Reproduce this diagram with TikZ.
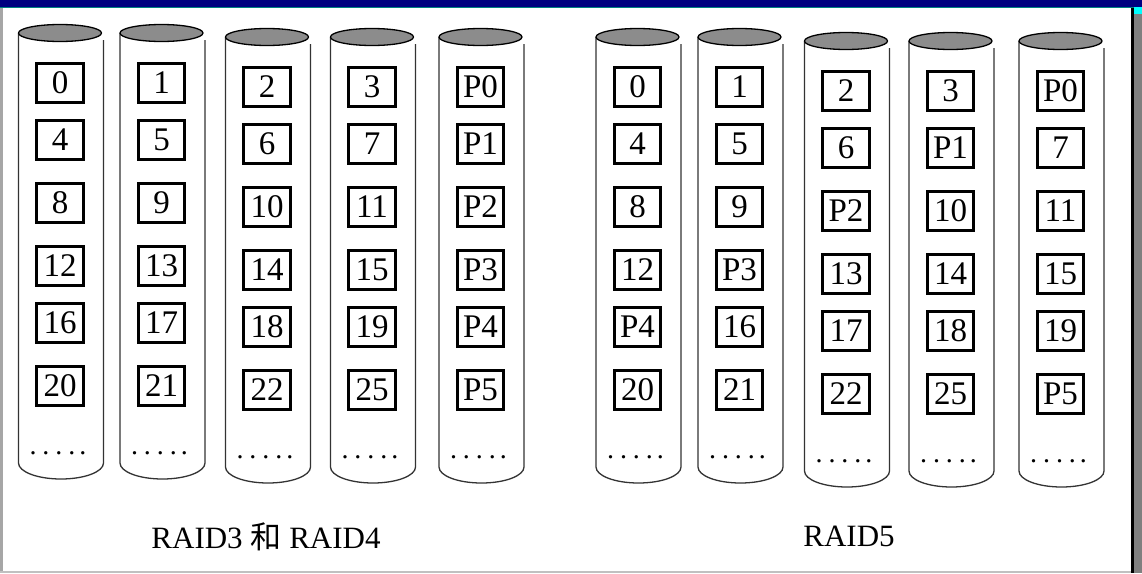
\documentclass[tikz,border=0pt]{standalone}
\usepackage{fontspec}
\setmainfont{Liberation Serif}
\newfontfamily\cjk{Noto Sans CJK SC}
\usetikzlibrary{positioning}
\definecolor{diskTop}{RGB}{140,140,140}
\definecolor{barBlue}{RGB}{0,0,128}
\definecolor{barTeal}{RGB}{0,128,128}
\definecolor{edgeGray}{RGB}{128,128,128}
\definecolor{edgeCyan}{RGB}{0,255,255}

\begin{document}
\begin{tikzpicture}[x=1pt, y=-1pt,
  blk/.style={draw, line width=2.6pt, minimum width=46.5pt, minimum height=38.5pt,
    inner sep=0pt, font=\fontsize{33}{36}\selectfont},
  side/.style={draw=black!80, line width=1.3pt},
  dots/.style={anchor=base, font=\fontsize{28}{32}\selectfont},
  raidlabel/.style={anchor=base, font=\fontsize{31}{36}\selectfont},
]
  \useasboundingbox (0,0) rectangle (1142,573);
  \fill[white] (0,0) rectangle (1142,573);
  \fill[barBlue] (0,0) rectangle (1142,7);
  \fill[barTeal] (0,6.5) rectangle (1134,8);
  \fill[edgeGray!70] (0,8) rectangle (2.5,573);
  \fill[edgeGray!50] (0,570.5) rectangle (1134,573);
  \fill[black] (1131,8) rectangle (1134,573);
  \fill[edgeGray] (1134,14) rectangle (1142,573);
  \fill[edgeCyan] (1134,7) rectangle (1142,14);

  \foreach \cx/\ty/\a/\b/\c/\d/\e/\f [count=\i] in {
      60/33/0/4/8/12/16/20, 161.5/33/1/5/9/13/17/21,
      267/37/2/6/10/14/18/22, 372/37/3/7/11/15/19/25,
      480.5/37/P0/P1/P2/P3/P4/P5,
      637.5/37/0/4/8/12/P4/20, 739.5/37/1/5/9/P3/16/21,
      846/41/2/6/P2/13/17/22, 950.5/41/3/P1/10/14/18/25,
      1060.5/41/P0/7/11/15/19/P5} {
    \draw[side] (\cx-41.5,\ty) -- (\cx-41.5,\ty+430)
      arc[start angle=180, end angle=360, x radius=42.5pt, y radius=16pt]
      -- (\cx+43.5,\ty+7);
    \draw[fill=diskTop, line width=1.3pt] (\cx,\ty) ellipse[x radius=41.5pt, y radius=8.5pt];
    \foreach \lab/\dy [count=\j] in {\a/50, \b/107, \c/170, \d/233, \e/290, \f/353}
      \node[blk] (d\i-\j) at (\cx,\ty+\dy) {\lab};
    \node[dots] (more\i) at (\cx-2,\ty+421)
      {.\kern6pt.\kern6pt.\kern6pt.\kern4pt.};
  }

  \node[raidlabel] (raid34) at (266,548) {RAID3 {\cjk 和} RAID4};
  \node[raidlabel] (raid5) at (849,546) {RAID5};
\end{tikzpicture}
\end{document}
